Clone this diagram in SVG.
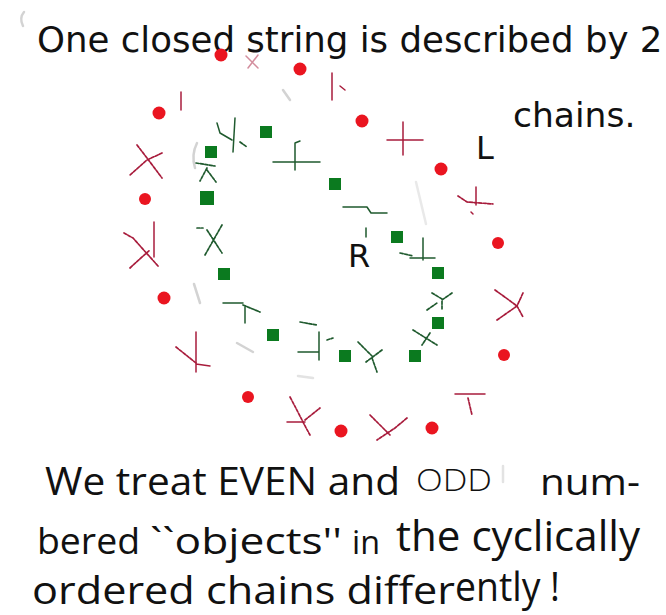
<svg xmlns="http://www.w3.org/2000/svg" width="666" height="615" viewBox="0 0 666 615">
<style>
.t{font-family:"DejaVu Sans","Liberation Sans",sans-serif;fill:#111}
.b{font-family:"Open Sans","Noto Sans",sans-serif;fill:#111}
.rd{fill:#ea1520}
.gs{fill:#0b7a1f}
.rm{fill:none;stroke:#a81c3c;stroke-width:1.5;stroke-linecap:round;stroke-linejoin:round}
.rmd{fill:none;stroke:#a81c3c;stroke-width:1.7;stroke-dasharray:3 1.5;stroke-linecap:round}
.gm{fill:none;stroke:#1f5a2e;stroke-width:1.5;stroke-linecap:round;stroke-linejoin:round}
.gmd{fill:none;stroke:#1f5a2e;stroke-width:1.7;stroke-dasharray:3 1.5;stroke-linecap:round}
.gr{fill:none;stroke:#c8c8c8;stroke-width:2.5;stroke-linecap:round;opacity:0.8}
</style>
<rect width="666" height="615" fill="#fff"/>
<g id="faint">
<path class="gr" d="M24 12 Q19 18 23 26"/>
<path class="gr" d="M197 143 Q191 155 195 168"/>
<path class="gr" d="M194 284 L200 303"/>
<path class="gr" d="M237 343 L253 352"/>
<path class="gr" d="M283 90 L290 100"/>
<path class="gr" d="M416 182 L426 224" style="opacity:0.4"/>
<path class="gr" d="M298 376 L313 378" style="opacity:0.5"/>
<path class="gr" d="M503 466 L503 482" style="opacity:0.5"/>
</g>
<g id="title">
<text class="t" x="37" y="52" font-size="35.6">One closed string is described by 2</text>
<text class="t" x="513" y="127" font-size="34.5">chains.</text>
</g>
<g id="label-L"><text class="t" x="476" y="159" font-size="32">L</text></g>
<g id="label-R"><text class="t" x="348" y="267" font-size="32">R</text></g>
<g id="L-chain">
<circle class="rd" cx="221" cy="55" r="6.5"/>
<circle class="rd" cx="300" cy="69" r="6.5"/>
<circle class="rd" cx="159" cy="113" r="6.5"/>
<circle class="rd" cx="362" cy="121" r="6.5"/>
<circle class="rd" cx="441" cy="169" r="6.5"/>
<circle class="rd" cx="145" cy="199" r="6"/>
<circle class="rd" cx="498" cy="243" r="6"/>
<circle class="rd" cx="164" cy="298" r="6.5"/>
<circle class="rd" cx="504" cy="355" r="6"/>
<circle class="rd" cx="248" cy="397" r="6"/>
<circle class="rd" cx="341" cy="431" r="6.5"/>
<circle class="rd" cx="432" cy="428" r="6.5"/>
<path class="rm" d="M246 56 L258 68 M258 55 L248 68" style="opacity:0.5"/>
<path class="rm" d="M181 92 L181 110"/>
<path class="rm" d="M332 73 L332 100 M340 86 L345 90"/>
<path class="rm" d="M387 140 L423 140 M403 122 L403 155"/>
<path class="rmd" d="M458 196 L467 202 L493 204"/>
<path class="rm" d="M476 187 L476 205 M471 212 L473 214"/>
<path class="rmd" d="M137 145 L147 158 L162 178 M162 153 L147 160 L130 175"/>
<path class="rmd" d="M124 233 L133 238 L158 266 M130 268 L142 257 L150 250"/>
<path class="rm" d="M154 222 L154 257"/>
<path class="rm" d="M196 332 L196 372 M196 364 L210 366"/>
<path class="rmd" d="M176 347 L196 363"/>
<path class="rmd" d="M290 397 Q298 412 302 420 Q306 428 310 435 M305 420 L320 408"/>
<path class="rm" d="M287 422 L305 422"/>
<path class="rmd" d="M370 415 L380 425 L390 435 M407 418 L395 428 L377 440"/>
<path class="rm" d="M455 394 L485 394"/>
<path class="rmd" d="M468 398 L472 415"/>
<path class="rmd" d="M495 290 L502 295 L517 306 L523 317 M523 293 L517 306 L497 320"/>
</g>
<g id="R-chain">
<rect class="gs" x="260" y="126" width="12" height="12"/>
<rect class="gs" x="205" y="146" width="12" height="12"/>
<rect class="gs" x="200" y="191" width="14" height="14"/>
<rect class="gs" x="218" y="268" width="12" height="12"/>
<rect class="gs" x="267" y="329" width="12" height="12"/>
<rect class="gs" x="339" y="350" width="12" height="12"/>
<rect class="gs" x="409" y="350" width="12" height="12"/>
<rect class="gs" x="432" y="317" width="12" height="12"/>
<rect class="gs" x="432" y="267" width="12" height="12"/>
<rect class="gs" x="391" y="231" width="12" height="12"/>
<rect class="gs" x="329" y="178" width="12" height="12"/>
<path class="gm" d="M235 118 L233 152 M217 123 L220 133 L232 140"/>
<path class="gmd" d="M240 142 L247 147"/>
<path class="gm" d="M273 162 L320 162 M295 143 L295 170 M295 143 L300 141"/>
<path class="gmd" d="M196 163 L215 166 M207 168 L200 181 M207 170 L216 182"/>
<path class="gmd" d="M197 228 L203 228 M207 230 L222 253 M222 225 L205 255"/>
<path class="gm" d="M343 207 L367 207 L371 213 L387 213 M366 228 L366 237"/>
<path class="gm" d="M423 238 L423 260 M410 258 L435 258"/>
<path class="gmd" d="M400 253 L413 256"/>
<path class="gmd" d="M432 293 L442 299 M452 293 L442 300 L442 310 M427 310 L437 303"/>
<path class="gmd" d="M413 330 L437 345 M430 333 L422 345"/>
<path class="gmd" d="M358 342 L372 356 M382 350 L366 362 M372 358 L377 372"/>
<path class="gm" d="M223 303 L243 303 M245 307 L245 323"/>
<path class="gmd" d="M243 305 L260 312"/>
<path class="gm" d="M319 332 L319 360 M298 352 L318 352"/>
<path class="gmd" d="M300 322 L317 325 M327 340 L333 338"/>
</g>
<g id="caption">
<text class="b" x="45" y="495" font-size="39" textLength="355" lengthAdjust="spacingAndGlyphs">We treat EVEN and</text>
<text class="b" x="416" y="491" font-size="32" fill="#222" textLength="76" lengthAdjust="spacingAndGlyphs" style="font-weight:300">ODD</text>
<text class="b" x="540" y="495" font-size="37" textLength="100" lengthAdjust="spacingAndGlyphs">num-</text>
<text class="b" x="37" y="554" font-size="37" textLength="103" lengthAdjust="spacingAndGlyphs">bered</text>
<text class="b" x="150" y="554" font-size="37" textLength="192" lengthAdjust="spacingAndGlyphs">``objects''</text>
<text class="b" x="352" y="554" font-size="33" textLength="28" lengthAdjust="spacingAndGlyphs">in</text>
<text class="b" x="396" y="551" font-size="42" textLength="244" lengthAdjust="spacingAndGlyphs" style="font-weight:500">the cyclically</text>
<text class="b" x="32" y="604" font-size="39" textLength="423" lengthAdjust="spacingAndGlyphs">ordered chains differ</text>
<text class="b" x="455" y="601" font-size="40" textLength="105" lengthAdjust="spacingAndGlyphs" style="font-weight:500">ently !</text>
</g>
</svg>
